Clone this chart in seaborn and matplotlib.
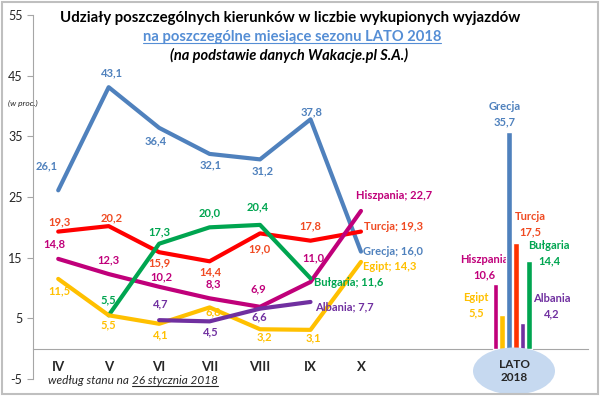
import numpy as np
import pandas as pd
import matplotlib
matplotlib.use("Agg")
import matplotlib.pyplot as plt
import seaborn as sns
from matplotlib.patches import Ellipse, Rectangle
from matplotlib.lines import Line2D

# =========================================
# DATA
# =========================================

months = ['IV', 'V', 'VI', 'VII', 'VIII', 'IX', 'X']

grecja = [26.1, 43.1, 36.4, 32.1, 31.2, 37.8, 16.0]
turcja = [19.3, 20.2, 15.9, 14.4, 19.0, 17.8, 19.3]
hiszpania = [14.8, 12.3, 10.2, 8.3, 6.9, 11.0, 22.7]
bulgaria = [None, 5.5, 17.3, 20.0, 20.4, 11.6, None]
egipt = [11.5, 5.5, 4.1, 6.8, 3.2, 3.1, 14.3]
albania = [None, None, 4.7, 4.5, 6.6, 7.7, None]

season_names = ['Hiszpania', 'Egipt', 'Grecja', 'Turcja', 'Albania', 'Bułgaria']
season_values = [10.6, 5.5, 35.7, 17.5, 4.2, 14.4]

series = {
    'Grecja': grecja,
    'Turcja': turcja,
    'Hiszpania': hiszpania,
    'Bułgaria': bulgaria,
    'Egipt': egipt,
    'Albania': albania,
}

line_colors = {
    'Grecja': '#4F81BD',
    'Turcja': '#FF0000',
    'Hiszpania': '#C0007A',
    'Bułgaria': '#00A550',
    'Egipt': '#FFC000',
    'Albania': '#7030A0',
}
label_colors = dict(line_colors, Turcja='#F04A22')
bar_colors = dict(line_colors, Turcja='#FF3300')

# label offsets in pixels (dx, dy[, ha])
offsets = {
    'Grecja': [(-12, 24), (3, 14), (-3, -13), (1, -11), (3, -11), (1, 8), (2, 0, 'left')],
    'Turcja': [(1, 10), (3, 8), (0, -11), (1, -11), (-1, -15), (0, 15), (3, 5, 'left')],
    'Hiszpania': [(-4, 15), (0, 14), (2, 10), (4, 14), (-2, 18), (3, 24), (-5, 15, 'left')],
    'Bułgaria': [None, (0, 15), (0, 12), (0, 14), (-2, 18), (3, -4, 'left'), None],
    'Egipt': [(1, -12), (0, -10), (2, -11), (4, -4), (4, -8), (3, -8), (2, -5, 'left')],
    'Albania': [None, None, (2, 16), (1, -10), (-1, -8), (5, -5, 'left'), None],
}
bar_offsets = {
    'Hiszpania': (-11, 17),
    'Egipt': (-26, 10),
    'Grecja': (-4, 18),
    'Turcja': (15, 18),
    'Albania': (29, 17),
    'Bułgaria': (20, 8),
}

rows = []
for name, vals in series.items():
    for i, v in enumerate(vals):
        if v is not None:
            rows.append({'kierunek': name, 'pos': i, 'udzial': v})
df = pd.DataFrame(rows)


def fmt(v):
    return f"{v:.1f}".replace('.', ',')


# =========================================
# PLOT
# =========================================

sns.set_style("white")
plt.rcParams['font.family'] = ['Lato', 'DejaVu Sans']
plt.rcParams['axes.unicode_minus'] = False

fig = plt.figure(figsize=(6, 3.96), dpi=100)
ax = fig.add_axes([33 / 600, 1 - 379 / 396, 555 / 600, 364 / 396])

sns.lineplot(
    data=df,
    x='pos',
    y='udzial',
    hue='kierunek',
    hue_order=list(series.keys()),
    palette=line_colors,
    linewidth=3,
    sort=False,
    legend=False,
    ax=ax,
)

# season bars
season_pos = 9
bw = 0.133
for i, (name, v) in enumerate(zip(season_names, season_values)):
    x = season_pos + (i - 2.5) * bw
    ax.bar(x, v, width=bw * 0.85, color=bar_colors[name], zorder=3)
    dx, dy = bar_offsets[name]
    ax.annotate(f"{name}\n{fmt(v)}", (x, v), xytext=(dx, dy),
                textcoords='offset pixels', ha='center', va='center',
                fontsize=8, fontweight='bold', color=label_colors[name],
                linespacing=1.5)

# line labels
for name, vals in series.items():
    last = max(i for i, v in enumerate(vals) if v is not None)
    for i, v in enumerate(vals):
        if v is None:
            continue
        off = offsets[name][i]
        ha = off[2] if len(off) > 2 else 'center'
        txt = f"{name}; {fmt(v)}" if i == last and ha == 'left' else fmt(v)
        ax.annotate(txt, (i, v), xytext=(off[0], off[1]),
                    textcoords='offset pixels', ha=ha, va='center',
                    fontsize=8, fontweight='bold', color=label_colors[name])

ax.set_xlim(-0.5, 10.5)
ax.set_ylim(-5, 55)
ax.set_yticks(np.arange(-5, 56, 10))
ax.set_xticks(np.arange(-0.5, 11, 1), minor=True)
ax.set_xlabel('')
ax.set_ylabel('')

for s in ['top', 'right']:
    ax.spines[s].set_visible(False)
ax.spines['bottom'].set_position(('data', 0))
ax.spines['bottom'].set_color('#A6A6A6')
ax.spines['left'].set_color('#A6A6A6')
ax.tick_params(axis='x', which='major', length=0, pad=9)
ax.tick_params(axis='x', which='minor', length=4, direction='out', color='#A6A6A6')
ax.tick_params(axis='y', length=4, direction='out', color='#A6A6A6',
               labelsize=9, labelcolor='#262626', left=True)
ax.set_xticks(range(len(months)), labels=months, fontweight='bold', fontsize=9.5,
              color='#262626')
ax.set_facecolor('none')

# titles
fig.text(290 / 600, 1 - 18 / 396, "Udziały poszczególnych kierunków w liczbie wykupionych wyjazdów",
         ha='center', va='center', fontsize=10.8, fontweight='bold', color='black')
t2 = fig.text(292 / 600, 1 - 37 / 396, "na poszczególne miesiące sezonu LATO 2018",
              ha='center', va='center', fontsize=10.6, fontweight='bold', color='#558ED5')
fig.text(289 / 600, 1 - 55 / 396, "(na podstawie danych Wakacje.pl S.A.)",
         ha='center', va='center', fontsize=10.5, fontweight='bold', style='italic', color='black')
fig.text(8 / 600, 1 - 103 / 396, "(w proc.)", ha='left', va='center',
         fontsize=6, style='italic', color='#262626')

t4a = fig.text(48 / 600, 1 - 381 / 396, "według stanu na ", ha='left', va='center',
               fontsize=8.5, style='italic', color='#262626')
fig.canvas.draw()
bb = t4a.get_window_extent()
t4b = fig.text(bb.x1 / 600, 1 - 381 / 396, "26 stycznia 2018", ha='left', va='center',
               fontsize=8.5, style='italic', color='#262626')

# LATO 2018 ellipse
fig.add_artist(Ellipse((514 / 600, 1 - 371 / 396), 82 / 600, 47 / 396,
                       transform=fig.transFigure, facecolor='#C6D9F0', edgecolor='none'))
fig.text(514 / 600, 1 - 371 / 396, "LATO\n2018", ha='center', va='center',
         fontsize=8.5, fontweight='bold', color='#262626', linespacing=1.3)

# frame
fig.add_artist(Rectangle((2 / 600, 2 / 396), 596 / 600, 392 / 396, transform=fig.transFigure,
                         facecolor='none', edgecolor='#BFBFBF', lw=1.5))

# underlines
fig.canvas.draw()
inv = fig.transFigure.inverted()
for t, c in [(t2, '#558ED5'), (t4b, '#262626')]:
    b = t.get_window_extent()
    (x0, y0), (x1, _) = inv.transform([(b.x0, b.y0 + 1), (b.x1, b.y0)])
    fig.add_artist(Line2D([x0, x1], [y0, y0], transform=fig.transFigure, color=c, lw=0.8))

plt.savefig("out.png", dpi=100)
